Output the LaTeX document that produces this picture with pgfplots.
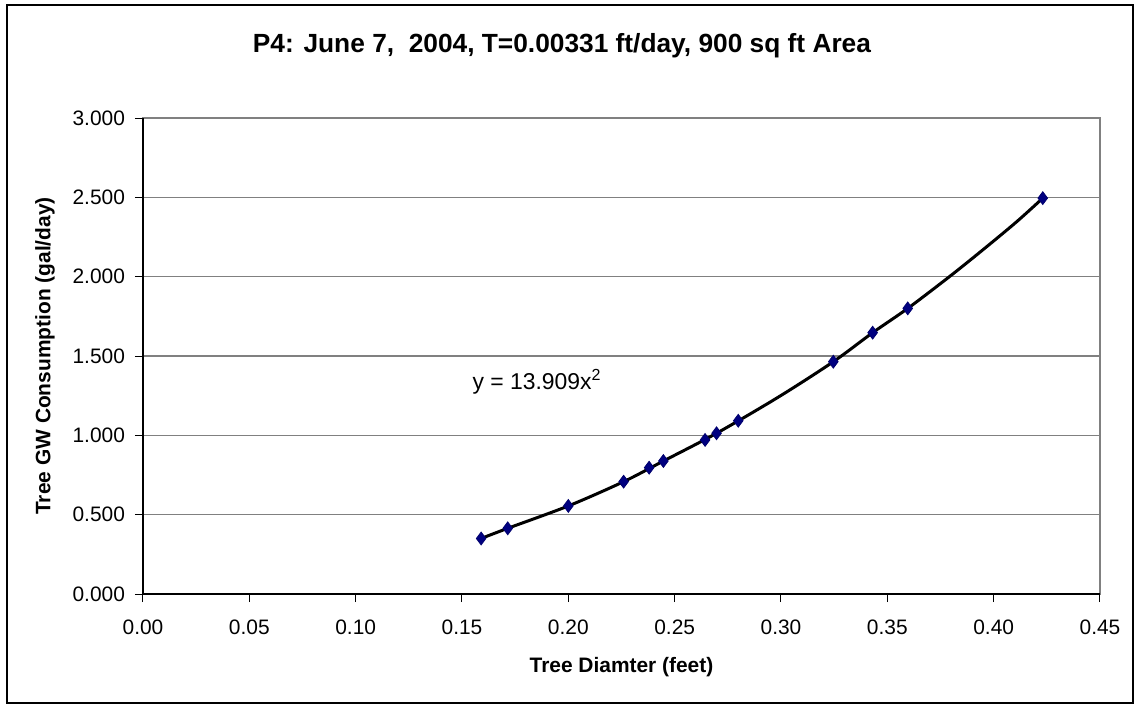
\documentclass[border=0pt]{standalone}
\usepackage{fontspec}
\setmainfont{Liberation Sans}
\usepackage{pgfplots}
\pgfplotsset{compat=1.18}
\begin{document}
\begin{tikzpicture}
\pgfplotstableread{
x y
0.1590 0.350
0.1715 0.414
0.2000 0.555
0.2260 0.708
0.2380 0.796
0.2447 0.838
0.2643 0.971
0.2697 1.013
0.2799 1.092
0.3246 1.464
0.3431 1.647
0.3596 1.800
0.4231 2.495
}\datatable
\pgfplotstableread{
x y
0.1590 0.350
0.1715 0.414
0.2000 0.555
0.2260 0.708
0.2447 0.838
0.2697 1.013
0.2990 1.243
0.3246 1.464
0.3431 1.647
0.3596 1.800
0.3790 1.998
0.3950 2.170
0.4108 2.346
0.4231 2.495
}\trendtable
\useasboundingbox (-71.5bp,-55bp) rectangle (496bp,297bp);
\draw[black, line width=0.8bp] (-68bp,-54.4bp) rectangle (495bp,294.5bp);
\begin{axis}[
  at={(0,0)}, anchor=south west,
  scale only axis, width=478.5bp, height=238bp,
  xmin=0, xmax=0.45, ymin=0, ymax=3,
  xtick={0,0.05,...,0.451}, ytick={0,0.5,...,3.01},
  tick align=outside, xtick pos=bottom, ytick pos=left,
  major tick length=4bp,
  tick style={black, line width=0.5bp},
  axis line style={draw=gray, line width=0.6bp},
  ymajorgrids, grid style={gray, line width=0.6bp},
  /pgf/number format/assume math mode=true,
  xticklabel={\pgfmathprintnumber[fixed,fixed zerofill,precision=2]{\tick}},
  yticklabel={\pgfmathprintnumber[fixed,fixed zerofill,precision=3]{\tick}},
  ticklabel style={font=\fontsize{10.5}{12}\selectfont},
  xticklabel style={yshift=-5.5bp},
  yticklabel style={xshift=-1.5bp},
  xlabel={Tree Diamter (feet)},
  ylabel={Tree GW Consumption (gal/day)},
  label style={font=\bfseries\fontsize{10.5}{12}\selectfont},
  xlabel style={at={(axis description cs:0.5,-0.1534)}, anchor=center},
  ylabel style={at={(axis description cs:-0.1024,0.5)}, anchor=center},
  title={P4: June 7,\ \ 2004, T=0.00331 ft/day, 900 sq ft Area},
  title style={font=\bfseries\fontsize{13.2}{16}\selectfont, at={(axis description cs:0.4378,1.152)}, anchor=center, yshift=-6pt},
  clip=false,
]
\addplot[only marks, mark=diamond*, mark size=3.2bp, draw={rgb,255:red,0;green,0;blue,110}, fill={rgb,255:red,0;green,0;blue,128}] table[x=x,y=y]{\datatable};
\addplot[black, line width=1.5bp, smooth, no marks] table[x=x,y=y]{\trendtable};
\draw[black, line width=0.6bp] (rel axis cs:0,1) -- (rel axis cs:0,0) -- (rel axis cs:1,0);
\node[font=\fontsize{11.5}{13}\selectfont] at (axis cs:0.1853,1.336) {y = 13.909x\textsuperscript{2}};
\end{axis}
\end{tikzpicture}
\end{document}
